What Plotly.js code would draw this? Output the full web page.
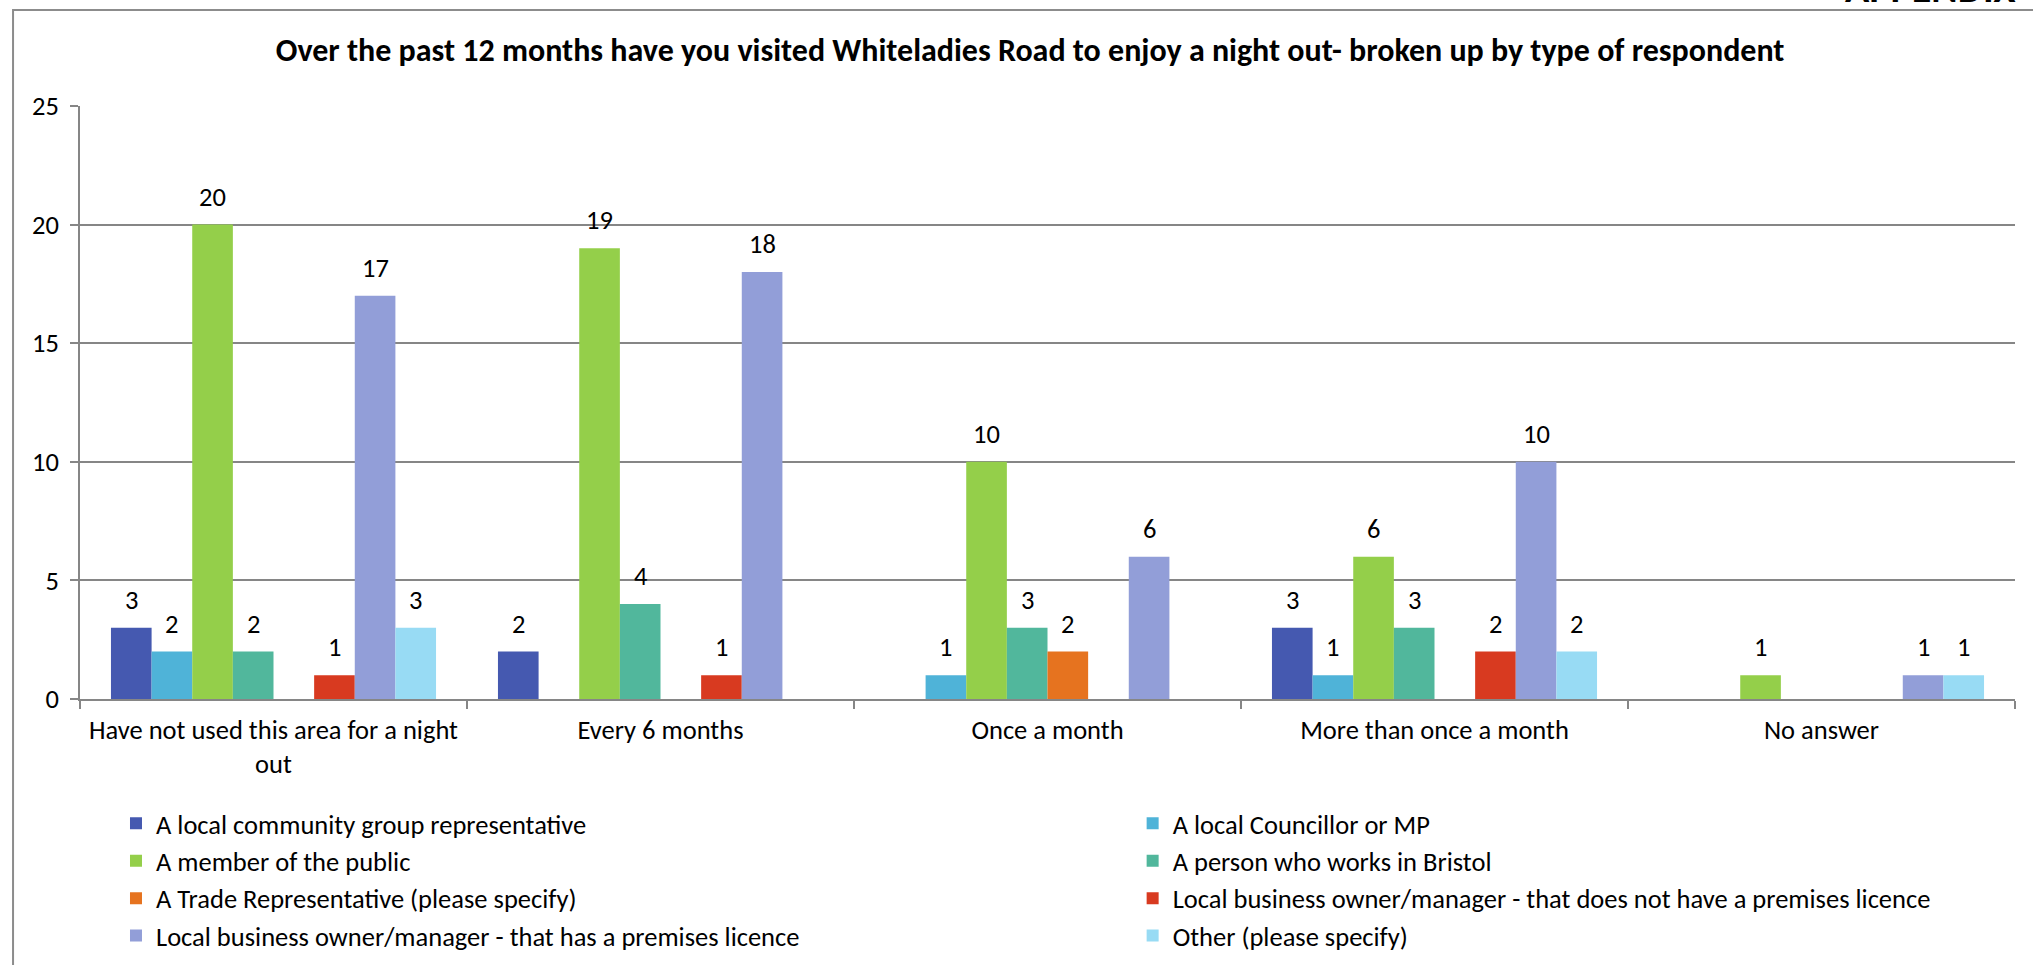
<!DOCTYPE html>
<html>
<head>
<meta charset="utf-8">
<script src="https://cdn.plot.ly/plotly-3.0.1.min.js"></script>
<style>
  html, body { margin: 0; padding: 0; background: #fff; }
</style>
</head>
<body>
<div id="graph1"></div>
<script>
// answers broken up by type of respondent
const categories = [
	"Have not used this area for a night<br>out",
	"Every 6 months",
	"Once a month",
	"More than once a month",
	"No answer"
];

const communityGroup = [3, 2, 0, 3, 0];
const councillor = [2, 0, 1, 1, 0];
const publicMember = [20, 19, 10, 6, 1];
const worksInBristol = [2, 4, 3, 3, 0];
const tradeRep = [0, 0, 2, 0, 0];
const noLicence = [1, 1, 0, 2, 0];
const hasLicence = [17, 18, 6, 10, 1];
const other = [3, 0, 0, 2, 1];

const names = [
	"A local community group representative",
	"A local Councillor or MP",
	"A member of the public",
	"A person who works in Bristol",
	"A Trade Representative (please specify)",
	"Local business owner/manager - that does not have a premises licence",
	"Local business owner/manager - that has a premises licence",
	"Other (please specify)"
];
const series = [communityGroup, councillor, publicMember, worksInBristol, tradeRep, noLicence, hasLicence, other];
const colors = ["#4559b0", "#4fb3d8", "#94cf4a", "#51b79c", "#e6731f", "#d83a20", "#929ed8", "#98dbf4"];

const W = 2033, H = 965;
const margin = {l: 80, r: 18, t: 106, b: 266};
const bargap = 0.16;
const fontSize = 26.5;

let traces = [];
for (let i = 0; i < series.length; ++i) {
	traces.push({
		type: 'bar',
		name: names[i],
		x: categories,
		y: series[i],
		marker: {color: colors[i]},
		hoverinfo: 'y',
		// two legend columns: left gets 1st,3rd,.. right gets 2nd,4th,..
		legend: (i % 2 == 0) ? 'legend' : 'legend2'
	});
}

// value labels sit a little above each bar, like the original
let plotW = W - margin.l - margin.r;
let barW = plotW / categories.length * (1 - bargap) / series.length;
let annotations = [];
for (let i = 0; i < series.length; ++i) {
	for (let j = 0; j < categories.length; ++j) {
		if (series[i][j] > 0) {
			annotations.push({
				x: categories[j], y: series[i][j],
				xref: 'x', yref: 'y',
				text: String(series[i][j]),
				showarrow: false,
				xshift: (i - (series.length - 1) / 2) * barW,
				yanchor: 'bottom', yshift: 10,
				font: {size: fontSize, color: '#000'}
			});
		}
	}
}

// cut-off page heading in the corner
annotations.push({
	xref: 'paper', yref: 'paper', x: 0.911, y: 1.1535,
	xanchor: 'left', yanchor: 'bottom',
	text: '<b>APPENDIX</b>', showarrow: false,
	font: {size: 40, color: '#000'}
});

let legendBase = {
	orientation: 'v',
	xanchor: 'left',
	y: -0.1695, yanchor: 'top',
	traceorder: 'normal',
	font: {size: fontSize, color: '#000'},
	bgcolor: 'rgba(0,0,0,0)',
	tracegroupgap: 0
};

let layout = {
	width: W,
	height: H,
	margin: Object.assign({autoexpand: false}, margin),
	paper_bgcolor: '#fff',
	plot_bgcolor: '#fff',
	font: {family: 'Carlito, Lato, sans-serif', size: fontSize, color: '#000'},
	title: {
		text: '<b>Over the past 12 months have you visited Whiteladies Road to enjoy a night out- broken up by type of respondent</b>',
		font: {size: 32, color: '#000'},
		x: 0.491, xref: 'paper', xanchor: 'center',
		y: 0.948, yref: 'container', yanchor: 'middle'
	},
	barmode: 'group',
	bargap: bargap,
	bargroupgap: 0,
	xaxis: {
		type: 'category',
		showline: true, linecolor: '#868686', linewidth: 1.5,
		ticks: 'outside', tickson: 'boundaries', ticklen: 8, tickcolor: '#868686', tickwidth: 1.5,
		showgrid: false,
		ticklabelstandoff: 6
	},
	yaxis: {
		range: [0, 25], dtick: 5,
		showline: true, linecolor: '#868686', linewidth: 1.5,
		ticks: 'outside', ticklen: 8, tickcolor: '#868686', tickwidth: 1.5,
		gridcolor: '#868686', gridwidth: 1.5,
		zeroline: false,
		ticklabelstandoff: 6
	},
	showlegend: true,
	legend: Object.assign({x: 0.0186}, legendBase),
	legend2: Object.assign({x: 0.544}, legendBase),
	annotations: annotations,
	shapes: [{
		type: 'rect', xref: 'paper', yref: 'paper',
		x0: -0.0346, x1: 1.1, y0: -1, y1: 1.162,
		line: {color: '#8c8c8c', width: 2},
		fillcolor: 'rgba(0,0,0,0)', layer: 'below'
	}]
};

Plotly.newPlot('graph1', traces, layout, {displayModeBar: false});
</script>
</body>
</html>
